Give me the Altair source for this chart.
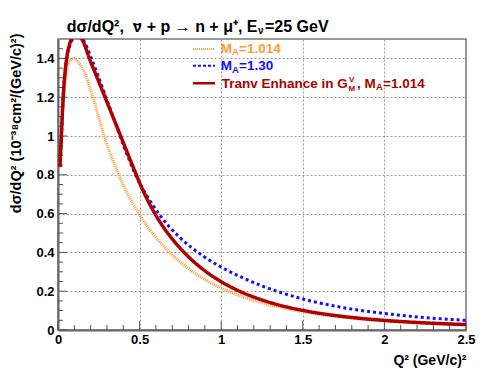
import altair as alt
import pandas as pd

# ---- data ----
q_orange = [0.012, 0.02, 0.03, 0.05, 0.07, 0.095, 0.12, 0.16, 0.212, 0.245, 0.277, 0.32, 0.375, 0.43, 0.495,
            0.57, 0.62, 0.685, 0.85, 1.0, 1.12, 1.257, 1.4, 1.542, 1.75, 2.0, 2.25, 2.5]
v_orange = [0.84, 1.0, 1.16, 1.32, 1.385, 1.40, 1.385, 1.33, 1.205, 1.11, 1.015, 0.91, 0.795, 0.696, 0.6,
            0.509, 0.457, 0.399, 0.287, 0.2165, 0.175, 0.1386, 0.110, 0.0883, 0.0653, 0.0468, 0.0345, 0.0261]

q_blue = [0.012, 0.02, 0.03, 0.05, 0.07, 0.09, 0.115, 0.14, 0.165, 0.2, 0.25, 0.3, 0.35, 0.4, 0.44, 0.475,
          0.5, 0.55, 0.619, 0.68, 0.747, 0.82, 0.89, 1.0, 1.12, 1.257, 1.4, 1.542, 1.75, 2.0, 2.25, 2.5]
v_blue = [0.84, 0.98, 1.18, 1.38, 1.46, 1.5, 1.52, 1.515, 1.48, 1.41, 1.3, 1.185, 1.07, 0.955, 0.87, 0.8,
          0.757, 0.685, 0.598, 0.534, 0.476, 0.424, 0.381, 0.324, 0.274, 0.225, 0.184, 0.151, 0.115, 0.085, 0.064, 0.0496]

q_red = [0.012, 0.02, 0.032, 0.053, 0.07, 0.085, 0.105, 0.13, 0.155, 0.192, 0.24, 0.288, 0.336, 0.384, 0.43,
         0.475, 0.5, 0.54, 0.583, 0.65, 0.71, 0.776, 0.88, 1.0, 1.12, 1.257, 1.4, 1.542, 1.75, 2.0, 2.25, 2.5]
v_red = [0.84, 0.99, 1.2, 1.4, 1.47, 1.505, 1.52, 1.515, 1.485, 1.40, 1.30, 1.2, 1.1, 1.0, 0.903,
         0.81, 0.759, 0.685, 0.616, 0.525, 0.459, 0.397, 0.318, 0.249, 0.197, 0.153, 0.119, 0.0945, 0.0693,
         0.0495, 0.0367, 0.028]

x_major = [0, 0.5, 1, 1.5, 2, 2.5]
x_minor = [0.1, 0.2, 0.3, 0.4, 0.6, 0.7, 0.8, 0.9, 1.1, 1.2, 1.3, 1.4, 1.6, 1.7, 1.8, 1.9,
           2.1, 2.2, 2.3, 2.4]
y_major = [0, 0.2, 0.4, 0.6, 0.8, 1.0, 1.2, 1.4]
y_minor = [0.05, 0.1, 0.15, 0.25, 0.3, 0.35, 0.45, 0.5, 0.55, 0.65, 0.7, 0.75, 0.85, 0.9, 0.95,
           1.05, 1.1, 1.15, 1.25, 1.3, 1.35, 1.45]

x_title = "Q² (GeV/c)²"
y_title = "dσ/dQ²   (10⁻³⁸cm²/(GeV/c)²)"

ORANGE = "#ff9933"
BLUE = "#1010ff"
RED = "#b00000"
FONT = "Liberation Sans"
W, H = 408, 291

xs = alt.Scale(domain=[0, 2.5], nice=False, zero=False)
ys = alt.Scale(domain=[0, 1.5], nice=False, zero=False)

x_axis = alt.Axis(values=x_major, format="~g", title=x_title, grid=True, ticks=False,
                  labelPadding=3, labelFlush=False, titleAnchor="end", titleAlign="right",
                  titleX=W, titleY=34, titleBaseline="alphabetic")
y_axis = alt.Axis(values=y_major, format="~g", title=y_title, grid=True, ticks=False,
                  labelPadding=4, labelFlush=False, titleAngle=270, titleAlign="right",
                  titleBaseline="alphabetic", titleX=-38, titleY=-6, titleFontSize=14.5)


def curve(q, v, color, width, dash):
    df = pd.DataFrame({"q": q, "v": v})
    return alt.Chart(df).mark_line(interpolate="monotone", clip=True, color=color,
                                   strokeWidth=width, strokeDash=dash).encode(
        x=alt.X("q:Q", scale=xs, axis=x_axis),
        y=alt.Y("v:Q", scale=ys, axis=y_axis),
    )


def xticks(vals, length):
    return alt.Chart(pd.DataFrame({"q": vals})).mark_rule(color="#555", strokeWidth=1).encode(
        x=alt.X("q:Q", scale=xs, axis=x_axis), y=alt.value(H), y2=alt.value(H - length))


def yticks(vals, length):
    return alt.Chart(pd.DataFrame({"v": vals})).mark_rule(color="#555", strokeWidth=1).encode(
        y=alt.Y("v:Q", scale=ys, axis=y_axis), x=alt.value(0), x2=alt.value(length))


one = pd.DataFrame({"a": [0]})


def txt(s, x, y, color="black", size=13.5, align="left"):
    return alt.Chart(one).mark_text(text=s, align=align, baseline="alphabetic", font=FONT,
                                    fontWeight="bold", fontSize=size, color=color).encode(
        x=alt.value(x), y=alt.value(y))


def sample(color, width, dash, y, x1=135, x2=157):
    return alt.Chart(one).mark_rule(color=color, strokeWidth=width, strokeDash=dash).encode(
        x=alt.value(x1), x2=alt.value(x2), y=alt.value(y))


layers = [
    xticks(x_major, 9), xticks(x_minor, 5), yticks(y_major, 9), yticks(y_minor, 5),
    curve(q_orange, v_orange, ORANGE, 3, [1, 1]),
    curve(q_blue, v_blue, BLUE, 3, [3, 3]),
    curve(q_red, v_red, RED, 3.5, [1, 0]),
    # legend
    sample(ORANGE, 2, [1, 1], 10),
    txt("M", 162.7, 13.7, ORANGE), txt("A", 174, 16.2, ORANGE, 9.5), txt("=1.014", 181, 13.7, ORANGE),
    sample(BLUE, 2, [3, 2], 26.7),
    txt("M", 162.7, 31, BLUE), txt("A", 174, 33.5, BLUE, 9.5), txt("=1.30", 181, 31, BLUE),
    sample(RED, 2.5, [1, 0], 44.3),
    txt("Tranv Enhance in G", 163.7, 48.7, RED), txt("V", 291, 42.5, RED, 8),
    txt("M", 290.5, 52.2, RED, 8), txt(", M", 299, 48.7, RED), txt("A", 318, 51.2, RED, 9.5),
    txt("=1.014", 325, 48.7, RED),
    # title
    txt("dσ/dQ²,", 8.7, -7.5, "black", 16),
    txt("ν", 75, -7.5, "black", 16),
    sample("black", 1.5, [1, 0], -14.5, 75.5, 83),
    txt("+ p → n + μ⁺, E", 199.5, -7.5, "black", 16, align="right"),
    txt("ν", 200, -5, "black", 10),
    txt("=25 GeV", 207, -7.5, "black", 16),
]

chart = alt.layer(*layers).properties(
    width=W, height=H,
    autosize=alt.AutoSizeParams(type="none"),
    padding={"left": 50, "top": 31, "right": 11, "bottom": 50},
    background="white",
).configure_view(stroke="#777", strokeWidth=1.5).configure_axis(
    domainColor="#666", domainWidth=2, labelFont=FONT, labelFontWeight="bold", labelFontSize=13,
    labelColor="black", titleFont=FONT, titleFontWeight="bold", titleFontSize=14, titleColor="black",
    gridColor="#999", gridDash=[2, 2], gridWidth=1,
)

chart.save("out.html", embed_options={"renderer": "svg", "actions": False})
